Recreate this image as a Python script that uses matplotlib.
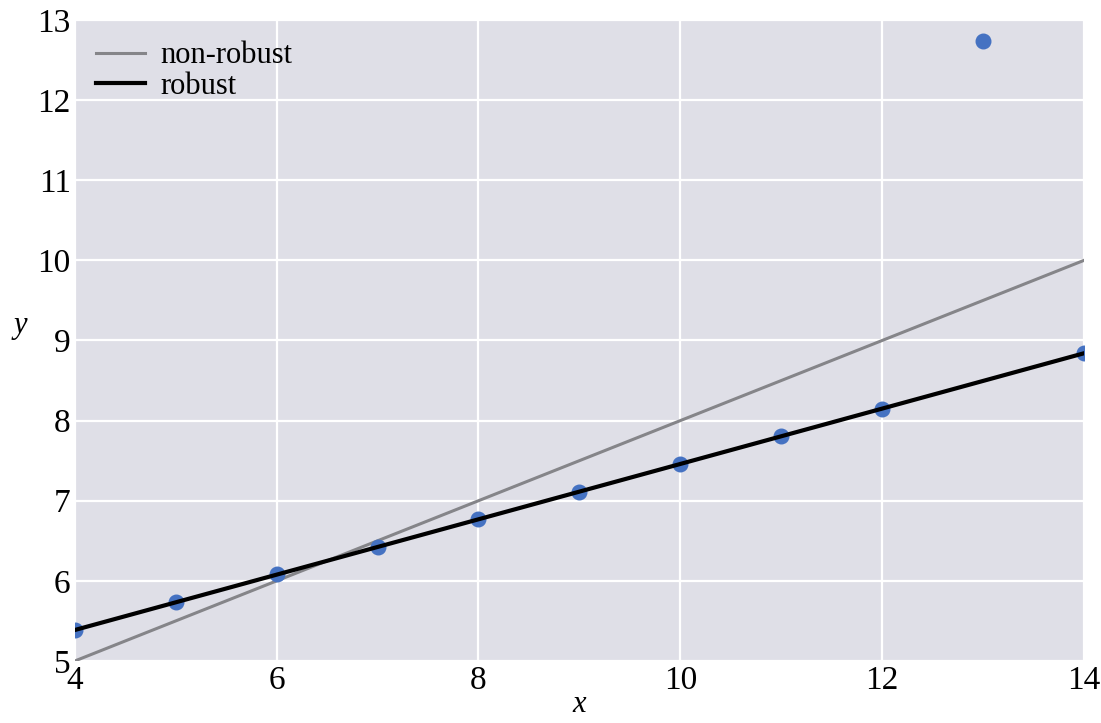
import numpy as np
import matplotlib.pyplot as plt

# Anscombe III data
x = np.array([10, 8, 13, 9, 11, 14, 6, 4, 12, 7, 5])
y = np.array([7.46, 6.77, 12.74, 7.11, 7.81, 8.84, 6.08, 5.39, 8.15, 6.42, 5.73])

# fitted lines
nonrobust_coef = [3.0, 0.5]
robust_coef = [4.005, 0.3454]

plt.rcParams['font.family'] = ['Liberation Serif', 'DejaVu Serif']

fig = plt.figure(figsize=(11.01, 7.23), dpi=100)
ax = fig.add_axes([0.068, 0.0858, 0.9165, 0.8865])
ax.set_facecolor('#dfdfe7')
for s in ax.spines.values():
    s.set_visible(False)
ax.grid(True, color='white', linewidth=1.6)
ax.set_axisbelow(True)

xs = np.array([4, 14])
ax.scatter(x, y, s=110, color='#4572c2', zorder=3)
ax.plot(xs, nonrobust_coef[0] + nonrobust_coef[1] * xs, color='#858589', lw=2.2,
        label='non-robust', zorder=2)
ax.plot(xs, robust_coef[0] + robust_coef[1] * xs, color='black', lw=3,
        label='robust', zorder=4)

ax.set_xlim(4, 14)
ax.set_ylim(5, 13)
ax.set_xticks(range(4, 15, 2))
ax.set_yticks(range(5, 14))
ax.tick_params(length=0, labelsize=24, pad=3)
ax.set_xlabel('x', fontsize=22, style='italic', labelpad=-4)
ax.set_ylabel('y', fontsize=22, style='italic', rotation=0, labelpad=12)
ax.legend(loc='upper left', fontsize=22, frameon=False, handlelength=1.6,
          handletextpad=0.5, borderaxespad=0.3, labelspacing=0.05)

fig.savefig('out.png', dpi=100)
